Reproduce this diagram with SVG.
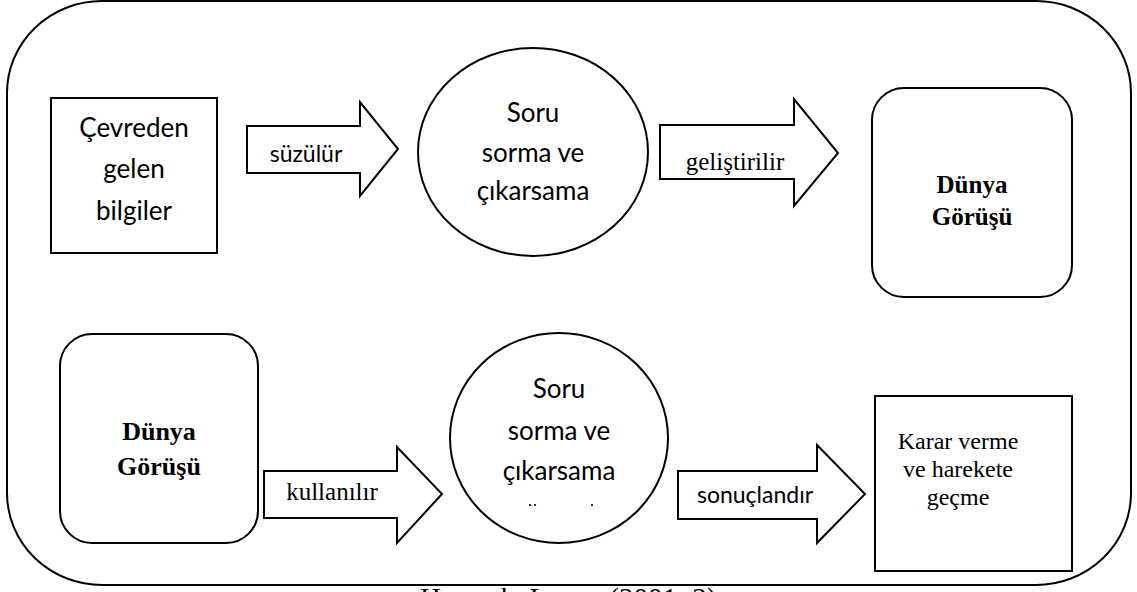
<svg xmlns="http://www.w3.org/2000/svg" width="1137" height="592" viewBox="0 0 1137 592">
<style>
.shape{fill:#fff;stroke:#000;stroke-width:2}
.arrow{fill:#fff;stroke:#000;stroke-width:2;stroke-linejoin:miter}
.sans{font-family:Lato,"Liberation Sans",sans-serif;fill:#000;text-anchor:middle}
.serif{font-family:"Liberation Serif","Times New Roman",serif;fill:#000;text-anchor:middle}
.bold{font-weight:bold}
</style>
<rect width="1137" height="592" fill="#fff"/>
<rect id="frame" x="7" y="1" width="1124" height="584" rx="95" ry="92" fill="none" stroke="#000" stroke-width="2"/>

<g id="node-cevreden">
<rect class="shape" x="51" y="98" width="166" height="155"/>
<text class="sans" font-size="26" x="134" y="137">Çevreden</text>
<text class="sans" font-size="26" x="134" y="178">gelen</text>
<text class="sans" font-size="26" x="134" y="220">bilgiler</text>
</g>

<g id="node-soru1">
<ellipse class="shape" cx="533" cy="152" rx="115" ry="104"/>
<text class="sans" font-size="26" x="533" y="122">Soru</text>
<text class="sans" font-size="26" x="533" y="162">sorma ve</text>
<text class="sans" font-size="26" x="533" y="200">çıkarsama</text>
</g>

<g id="node-dunya1">
<rect class="shape" x="872" y="88" width="200" height="209" rx="32"/>
<text class="serif bold" font-size="25" x="972" y="193">Dünya</text>
<text class="serif bold" font-size="25" x="972" y="225">Görüşü</text>
</g>

<g id="node-dunya2">
<rect class="shape" x="60" y="334" width="198" height="209" rx="32"/>
<text class="serif bold" font-size="26" x="159" y="440">Dünya</text>
<text class="serif bold" font-size="26" x="159" y="475">Görüşü</text>
</g>

<g id="node-soru2">
<ellipse class="shape" cx="559" cy="438" rx="109" ry="105"/>
<text class="sans" font-size="26" x="559" y="398">Soru</text>
<text class="sans" font-size="26" x="559" y="440">sorma ve</text>
<text class="sans" font-size="26" x="559" y="480">çıkarsama</text>
<circle cx="530" cy="505" r="1.1" fill="#000"/>
<circle cx="535" cy="505" r="1.1" fill="#000"/>
<circle cx="592" cy="505" r="1.1" fill="#000"/>
</g>

<g id="node-karar">
<rect class="shape" x="875" y="396" width="197" height="175"/>
<text class="serif" font-size="24" x="958" y="449">Karar verme</text>
<text class="serif" font-size="24" x="958" y="477">ve harekete</text>
<text class="serif" font-size="24" x="958" y="505">geçme</text>
</g>

<g id="connectors">
<g id="arrow-suzulur">
<polygon class="arrow" points="247,126 360,126 360,102 398,149 360,196 360,173 247,173"/>
<text class="sans" font-size="23" x="306" y="162">süzülür</text>
</g>
<g id="arrow-gelistirilir">
<polygon class="arrow" points="660,125 794,125 794,99 838,153 794,206 794,179 660,179"/>
<text class="serif" font-size="25" x="735" y="170">geliştirilir</text>
</g>
<g id="arrow-kullanilir">
<polygon class="arrow" points="264,471 397,471 397,447 442,494 397,543 397,518 264,518"/>
<text class="serif" font-size="25" x="332" y="500">kullanılır</text>
</g>
<g id="arrow-sonuclandir">
<polygon class="arrow" points="678,471 817,471 817,445 865,494 817,543 817,519 678,519"/>
<text class="sans" font-size="23" x="755" y="503">sonuçlandır</text>
</g>
</g>

<text class="serif" font-size="29" x="420" y="608" text-anchor="start" style="text-anchor:start">Hanscık, Lanna (2001: 2)</text>
</svg>
